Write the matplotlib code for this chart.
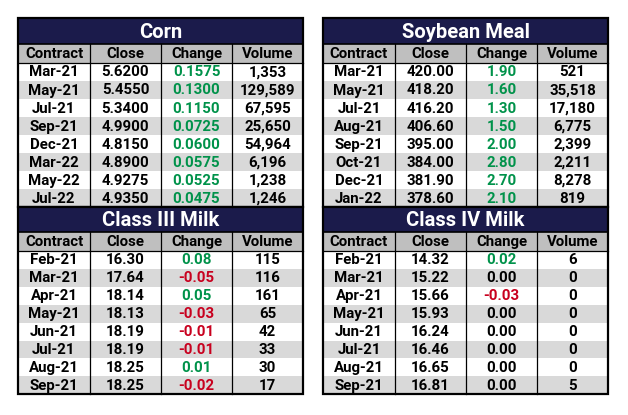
import matplotlib.pyplot as plt
from matplotlib.patches import Rectangle

plt.rcParams['font.family'] = ['Roboto', 'DejaVu Sans']

# Table data
headers = ["Contract", "Close", "Change", "Volume"]

corn_contracts = ["Mar-21", "May-21", "Jul-21", "Sep-21", "Dec-21", "Mar-22", "May-22", "Jul-22"]
corn_close = [5.6200, 5.4550, 5.3400, 4.9900, 4.8150, 4.8900, 4.9275, 4.9350]
corn_change = [0.1575, 0.1300, 0.1150, 0.0725, 0.0600, 0.0575, 0.0525, 0.0475]
corn_volume = [1353, 129589, 67595, 25650, 54964, 6196, 1238, 1246]

soy_contracts = ["Mar-21", "May-21", "Jul-21", "Aug-21", "Sep-21", "Oct-21", "Dec-21", "Jan-22"]
soy_close = [420.00, 418.20, 416.20, 406.60, 395.00, 384.00, 381.90, 378.60]
soy_change = [1.90, 1.60, 1.30, 1.50, 2.00, 2.80, 2.70, 2.10]
soy_volume = [521, 35518, 17180, 6775, 2399, 2211, 8278, 819]

c3_contracts = ["Feb-21", "Mar-21", "Apr-21", "May-21", "Jun-21", "Jul-21", "Aug-21", "Sep-21"]
c3_close = [16.30, 17.64, 18.14, 18.13, 18.19, 18.19, 18.25, 18.25]
c3_change = [0.08, -0.05, 0.05, -0.03, -0.01, -0.01, 0.01, -0.02]
c3_volume = [115, 116, 161, 65, 42, 33, 30, 17]

c4_contracts = ["Feb-21", "Mar-21", "Apr-21", "May-21", "Jun-21", "Jul-21", "Aug-21", "Sep-21"]
c4_close = [14.32, 15.22, 15.66, 15.93, 16.24, 16.46, 16.65, 16.81]
c4_change = [0.02, 0.00, -0.03, 0.00, 0.00, 0.00, 0.00, 0.00]
c4_volume = [6, 0, 0, 0, 0, 0, 0, 5]

NAVY = "#1b1b4b"
HEAD_BG = "#bfbfbf"
ALT_BG = "#d9d9d9"
GREEN = "#00924a"
RED = "#c8001e"

W, H = 628, 415
fig = plt.figure(figsize=(W / 100, H / 100), dpi=100)
ax = fig.add_axes([0, 0, 1, 1])
ax.set_xlim(0, W)
ax.set_ylim(H, 0)
ax.axis("off")


def draw_table(x0, y0, title, contracts, close, change, volume, decimals, title_h, head_h, row_h):
    col_w = [72, 71, 71, 71]
    col_x = [x0]
    for w in col_w:
        col_x.append(col_x[-1] + w)
    x1 = col_x[-1]

    # title bar
    ax.add_patch(Rectangle((x0, y0), x1 - x0, title_h, facecolor=NAVY, edgecolor="none"))
    ax.text((x0 + x1) / 2, y0 + title_h / 2 + 1, title, color="white", fontsize=14.5,
            fontweight="bold", ha="center", va="center")

    # header row
    hy = y0 + title_h
    ax.add_patch(Rectangle((x0, hy), x1 - x0, head_h, facecolor=HEAD_BG, edgecolor="none"))
    for i, h in enumerate(headers):
        ax.text((col_x[i] + col_x[i + 1]) / 2, hy + head_h / 2 + 0.5, h, fontsize=10.8,
                fontweight="bold", ha="center", va="center", color="black")

    # data rows
    ry = hy + head_h
    for r in range(len(contracts)):
        y = ry + r * row_h
        bg = "white" if r % 2 == 0 else ALT_BG
        ax.add_patch(Rectangle((x0, y), x1 - x0, row_h, facecolor=bg, edgecolor="none"))
        chg = change[r]
        if chg > 0:
            ccol = GREEN
        elif chg < 0:
            ccol = RED
        else:
            ccol = "black"
        vals = [contracts[r], f"{close[r]:.{decimals}f}", f"{chg:.{decimals}f}", f"{volume[r]:,}"]
        colors = ["black", "black", ccol, "black"]
        for i, v in enumerate(vals):
            ax.text((col_x[i] + col_x[i + 1]) / 2, y + row_h / 2 + 0.5, v, fontsize=10.8,
                    fontweight="bold", ha="center", va="center", color=colors[i])

    y_end = ry + len(contracts) * row_h
    # grid lines
    for cx in col_x[1:-1]:
        ax.plot([cx, cx], [hy, y_end], color="black", lw=0.9)
    ax.plot([x0, x1], [ry, ry], color="black", lw=0.9)
    ax.plot([x0, x1], [hy, hy], color="black", lw=1.2)
    # outer border
    ax.add_patch(Rectangle((x0, y0), x1 - x0, y_end - y0, facecolor="none",
                           edgecolor="black", lw=1.6))
    return y_end


draw_table(18, 18, "Corn", corn_contracts, corn_close, corn_change, corn_volume, 4, 26, 19, 18)
draw_table(323, 18, "Soybean Meal", soy_contracts, soy_close, soy_change, soy_volume, 2, 26, 19, 18)
draw_table(18, 207, "Class III Milk", c3_contracts, c3_close, c3_change, c3_volume, 2, 25, 19, 17.9)
draw_table(323, 207, "Class IV Milk", c4_contracts, c4_close, c4_change, c4_volume, 2, 25, 19, 17.9)

fig.savefig("out.png", dpi=100, facecolor="white")
